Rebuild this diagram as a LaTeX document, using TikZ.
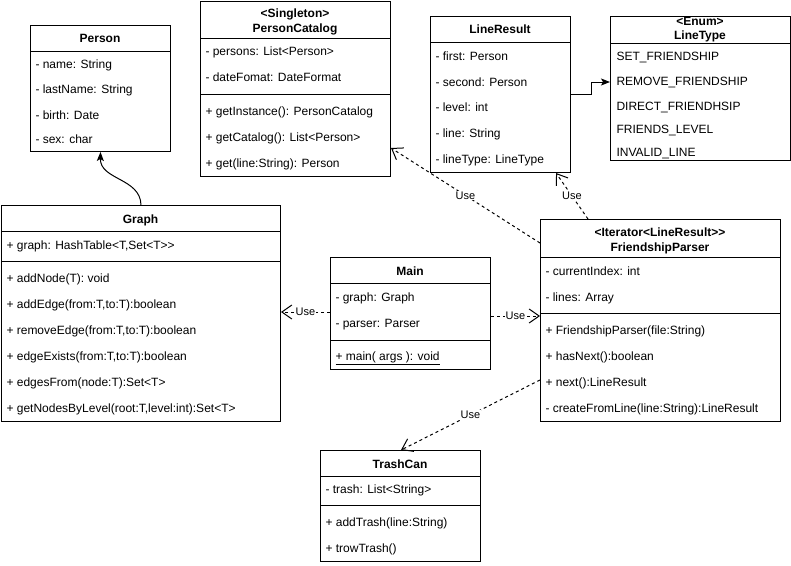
\documentclass[tikz,border=0pt]{standalone}
\usepackage{fontspec}
\setmainfont{Liberation Sans}
\usetikzlibrary{arrows.meta}
\begin{document}
\begin{tikzpicture}[x=1pt,y=-1pt,line width=1pt,
  cls/.style={draw,rectangle,inner sep=0pt,anchor=north west},
  row/.style={anchor=base west,yshift=-4.5pt,inner sep=0pt,font=\fontsize{12}{14}\selectfont},
  hdr/.style={inner sep=0pt,align=center,font=\bfseries\fontsize{12}{14.5}\selectfont},
  usedep/.style={dash pattern=on 3pt off 3pt,-{Straight Barb[length=10pt,width=14pt]}},
  lbl/.style={fill=white,inner sep=1pt,font=\fontsize{11}{13}\selectfont},
  assoc/.style={-{Stealth[length=9pt,width=7pt,inset=2pt]}}
]
\useasboundingbox (0,0) rectangle (791,565);

% Person
\node[cls,minimum width=140pt,minimum height=126pt] (person) at (30,25) {};
\node[hdr] (personH) at (100,38) {Person};
\draw (30,51) -- (170,51);
\node[row] (p1) at (35,64) {- name: String};
\node[row] (p2) at (35,89) {- lastName: String};
\node[row] (p3) at (35,115) {- birth: Date};
\node[row] (p4) at (35,139) {- sex: char};

% PersonCatalog
\node[cls,minimum width=190pt,minimum height=175pt] (catalog) at (200,1) {};
\node[hdr] (catalogH) at (295,22) {<Singleton>\\PersonCatalog};
\draw (200,38) -- (390,38);
\node[row] (c1) at (205,51) {- persons: List<Person>};
\node[row] (c2) at (205,77) {- dateFomat: DateFormat};
\draw (200,94) -- (390,94);
\node[row] (c3) at (205,111) {+ getInstance(): PersonCatalog};
\node[row] (c4) at (205,137) {+ getCatalog(): List<Person>};
\node[row] (c5) at (205,163) {+ get(line:String): Person};

% LineResult
\node[cls,minimum width=140pt,minimum height=156pt] (lr) at (430,16) {};
\node[hdr] (lrH) at (500,29) {LineResult};
\draw (430,42) -- (570,42);
\node[row] (l1) at (435,56) {- first: Person};
\node[row] (l2) at (435,82) {- second: Person};
\node[row] (l3) at (435,107) {- level: int};
\node[row] (l4) at (435,133) {- line: String};
\node[row] (l5) at (435,159) {- lineType: LineType};

% LineType
\node[cls,minimum width=180pt,minimum height=144pt] (lt) at (610,16) {};
\node[hdr] (ltH) at (700,29.5) {<Enum>\\LineType};
\draw (610,43) -- (790,43);
\node[row] (t1) at (616,56) {SET\_FRIENDSHIP};
\node[row] (t2) at (616,81) {REMOVE\_FRIENDSHIP};
\node[row] (t3) at (616,106) {DIRECT\_FRIENDHSIP};
\node[row] (t4) at (616,129) {FRIENDS\_LEVEL};
\node[row] (t5) at (616,152) {INVALID\_LINE};

% Graph
\node[cls,minimum width=279pt,minimum height=216pt] (graph) at (1,205) {};
\node[hdr] (graphH) at (140.5,220) {Graph};
\draw (1,231) -- (280,231);
\node[row] (g0) at (6,245) {+ graph: HashTable<T,Set<T>{}>};
\draw (1,261) -- (280,261);
\node[row] (g1) at (6,278) {+ addNode(T): void};
\node[row] (g2) at (6,304) {+ addEdge(from:T,to:T):boolean};
\node[row] (g3) at (6,330) {+ removeEdge(from:T,to:T):boolean};
\node[row] (g4) at (6,356) {+ edgeExists(from:T,to:T):boolean};
\node[row] (g5) at (6,382) {+ edgesFrom(node:T):Set<T>};
\node[row] (g6) at (6,408) {+ getNodesByLevel(root:T,level:int):Set<T>};

% Main
\node[cls,minimum width=160pt,minimum height=112pt] (main) at (330,257) {};
\node[hdr] (mainH) at (410,271) {Main};
\draw (330,283) -- (490,283);
\node[row] (m1) at (335,297) {- graph: Graph};
\node[row] (m2) at (335,323) {- parser: Parser};
\draw (330,340) -- (490,340);
\node[row] (m3) at (335,356) {\underline{+ main( args ): void}};

% FriendshipParser
\node[cls,minimum width=240pt,minimum height=202pt] (fp) at (540,219) {};
\node[hdr] (fpH) at (660,241) {<Iterator<LineResult>{}>\\FriendshipParser};
\draw (540,257) -- (780,257);
\node[row] (f1) at (545,271) {- currentIndex: int};
\node[row] (f2) at (545,297) {- lines: Array};
\draw (540,313) -- (780,313);
\node[row] (f3) at (545,330) {+ FriendshipParser(file:String)};
\node[row] (f4) at (545,356) {+ hasNext():boolean};
\node[row] (f5) at (545,382) {+ next():LineResult};
\node[row] (f6) at (545,408) {- createFromLine(line:String):LineResult};

% TrashCan
\node[cls,minimum width=160pt,minimum height=111pt] (trash) at (320,450) {};
\node[hdr] (trashH) at (400,464) {TrashCan};
\draw (320,476) -- (480,476);
\node[row] (r1) at (325,489) {- trash: List<String>};
\draw (320,505) -- (480,505);
\node[row] (r2) at (325,522) {+ addTrash(line:String)};
\node[row] (r3) at (325,548) {+ trowTrash()};

% connectors
\draw[assoc] (graph.north) .. controls (140.5,178) and (100,180) .. (person.south);
\draw[assoc] (lr.east |- 0,94) -- (591,94) |- (lt.west |- 0,82);
\draw[usedep] (fp.west |- 0,243) -- node[lbl,midway] {Use} (catalog.east |- 0,148);
\draw[usedep] (fp.north west -| 588,0) -- node[lbl,midway] {Use} (lr.south west -| 556,0);
\draw[usedep] (main.west |- 0,312) -- node[lbl,midway] {Use} (graph.east |- 0,312);
\draw[usedep] (main.east |- 0,316) -- node[lbl,midway] {Use} (fp.west |- 0,316);
\draw[usedep] (fp.west |- 0,380) -- node[lbl,midway] {Use} (trash.north west -| 401,0);
\end{tikzpicture}
\end{document}
